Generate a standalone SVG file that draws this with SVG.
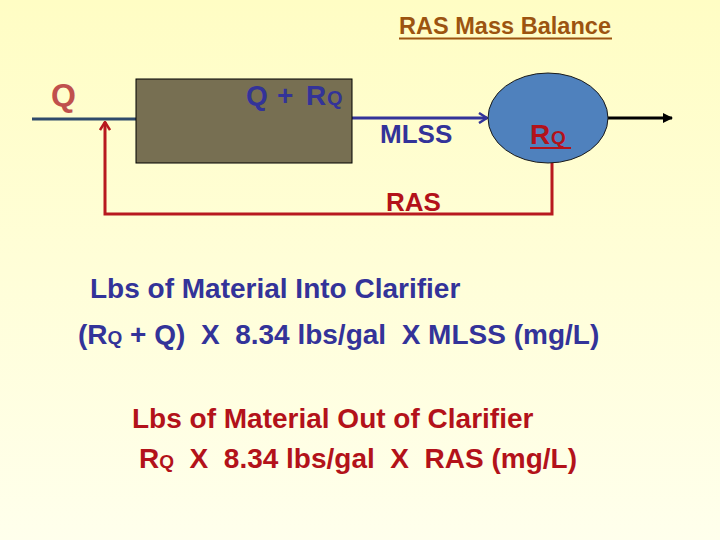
<svg xmlns="http://www.w3.org/2000/svg" width="720" height="540" viewBox="0 0 720 540">
<defs>
<linearGradient id="bg" x1="0" y1="0" x2="0" y2="1">
<stop offset="0" stop-color="#FFFDC4"/>
<stop offset="1" stop-color="#FFFFEC"/>
</linearGradient>
<marker id="ablue" viewBox="0 0 10 12" refX="9" refY="6" markerWidth="10" markerHeight="12" markerUnits="userSpaceOnUse" orient="auto">
<path d="M1,1 L9,6 L1,11" fill="none" stroke="#333399" stroke-width="2.5"/>
</marker>
<marker id="ared" viewBox="0 0 10 12" refX="9" refY="6" markerWidth="10" markerHeight="12" markerUnits="userSpaceOnUse" orient="auto">
<path d="M1,1 L9,6 L1,11" fill="none" stroke="#B8191F" stroke-width="2.5"/>
</marker>
<marker id="ablack" viewBox="0 0 10 10" refX="9" refY="5" markerWidth="10" markerHeight="10" markerUnits="userSpaceOnUse" orient="auto">
<path d="M0,0 L10,5 L0,10 Z" fill="#000"/>
</marker>
</defs>
<style>
text { font-family: "Liberation Sans", Arial, sans-serif; font-weight: bold; }
.blue { fill: #333399; }
.red { fill: #B3121A; }
.conn { fill: none; stroke-width: 3; }
</style>
<rect x="0" y="0" width="720" height="540" fill="url(#bg)"/>

<g id="title">
<text x="399" y="34" font-size="23" fill="#9C5410" textLength="212" lengthAdjust="spacingAndGlyphs">RAS Mass Balance</text>
<line x1="399" y1="38.5" x2="612" y2="38.5" stroke="#9C5410" stroke-width="2"/>
</g>

<g id="connectors">
<line class="conn" x1="32" y1="119" x2="136" y2="119" stroke="#2F4A6B"/>
<line class="conn" x1="352" y1="118" x2="487" y2="118" stroke="#333399" marker-end="url(#ablue)"/>
<line x1="608" y1="118" x2="672" y2="118" stroke="#000" stroke-width="3" marker-end="url(#ablack)"/>
<polyline class="conn" points="552,163 552,214 105,214 105,122" stroke="#B8191F" marker-end="url(#ared)"/>
</g>

<g id="inlet-label">
<text x="51" y="106" font-size="32" fill="#C0504D">Q</text>
</g>

<g id="aeration-basin">
<rect x="136" y="79" width="216" height="84" fill="#776F52" stroke="#000" stroke-width="1"/>
<text class="blue" y="105" font-size="28"><tspan x="246">Q</tspan><tspan x="277">+</tspan><tspan x="306">R</tspan><tspan x="327" font-size="20">Q</tspan></text>
</g>

<g id="mlss-label">
<text class="blue" x="380" y="143" font-size="26">MLSS</text>
</g>

<g id="clarifier">
<ellipse cx="548" cy="118" rx="60" ry="45" fill="#4F81BD" stroke="#1A1A1A" stroke-width="1"/>
<text class="red" y="144" font-size="28"><tspan x="530">R</tspan><tspan x="551" font-size="19">Q</tspan></text>
<line x1="530" y1="148" x2="571" y2="148" stroke="#B3121A" stroke-width="2"/>
</g>

<g id="ras-label">
<text class="red" x="386" y="211" font-size="26">RAS</text>
</g>

<g id="equations">
<text class="blue" x="90" y="298" font-size="28">Lbs of Material Into Clarifier</text>
<text class="blue" x="78" y="344" font-size="28" xml:space="preserve">(R<tspan font-size="19">Q</tspan> + Q)  X  8.34 lbs/gal  X MLSS (mg/L)</text>
<text class="red" x="132" y="428" font-size="28">Lbs of Material Out of Clarifier</text>
<text class="red" x="139" y="468" font-size="28" xml:space="preserve">R<tspan font-size="19">Q</tspan>  X  8.34 lbs/gal  X  RAS (mg/L)</text>
</g>
</svg>
